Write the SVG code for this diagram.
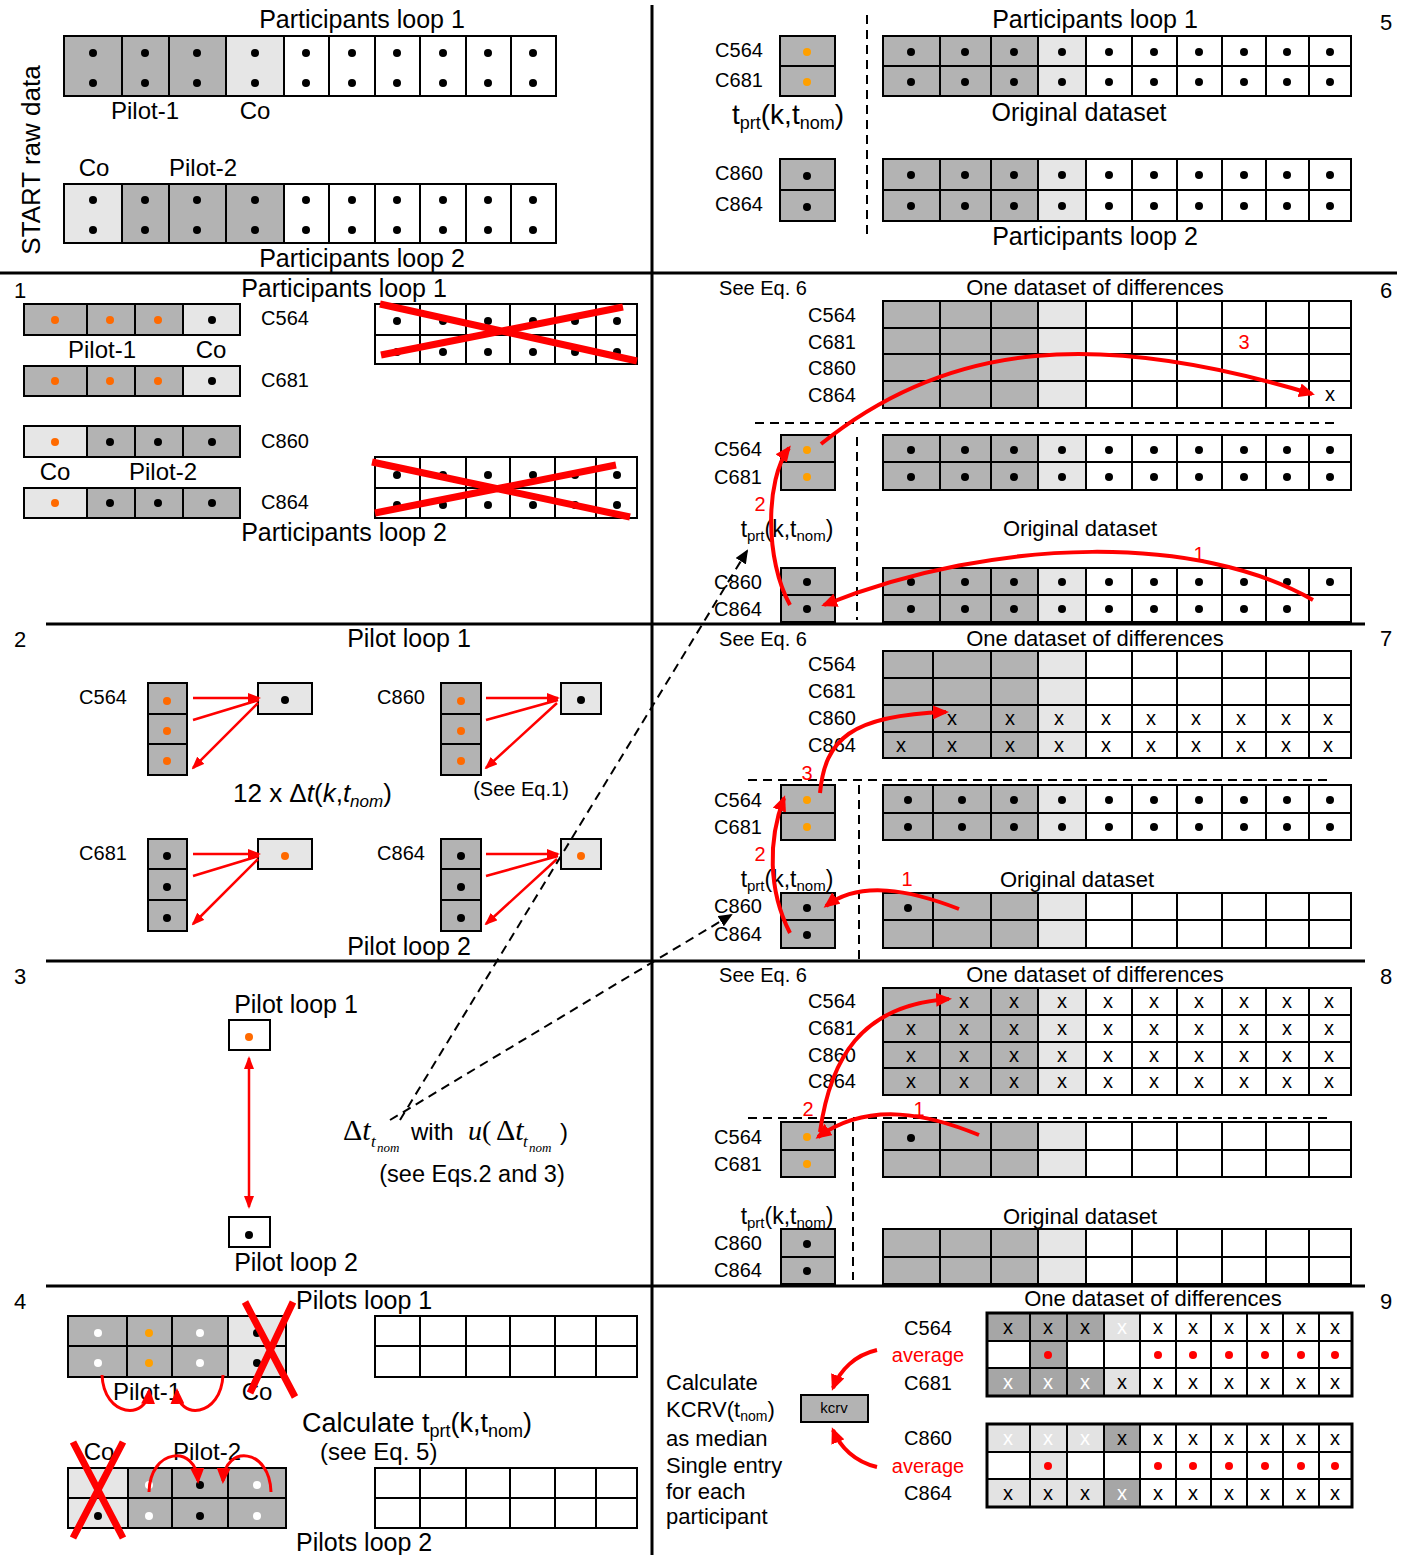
<svg xmlns="http://www.w3.org/2000/svg" width="1411" height="1555" viewBox="0 0 1411 1555">
<style>
text{font-family:"Liberation Sans",Arial,sans-serif;fill:#000}
.s18{font-size:18px}.s20{font-size:20px}.s22{font-size:22px}.s24{font-size:24px}.s25{font-size:25px}.s26{font-size:26px}
.m{text-anchor:middle}
.it{font-style:italic}
.serif{font-family:"Liberation Serif","Times New Roman",serif}
.G{fill:#b3b3b3}.L{fill:#e6e6e6}.D{fill:#a6a6a6}.L9{fill:#e3e3e3}
.grid{fill:none;stroke:#000;stroke-width:2}
.grid3{fill:none;stroke:#000;stroke-width:3}
.k{fill:#000}.o{fill:#ff6a00}.a{fill:#ffa000}.wd{fill:#fff}.rd{fill:#f00}
text.red{fill:#f00}
text.wx{fill:#fff}
.cross{stroke:#f00;stroke-width:7;fill:none}
.rc{stroke:#f00;stroke-width:4;fill:none}
.rc3{stroke:#f00;stroke-width:3;fill:none}
.rs{stroke:#f00;stroke-width:2.5;fill:none}
.dash{stroke:#000;stroke-width:2;stroke-dasharray:9 6;fill:none}
.frame{stroke:#000;stroke-width:3;fill:none}
.kbox{fill:#b3b3b3;stroke:#000;stroke-width:2}
</style>
<defs>
<marker id="ra" viewBox="0 0 16 14" refX="13" refY="7" markerWidth="16" markerHeight="14" markerUnits="userSpaceOnUse" orient="auto-start-reverse"><path d="M0,0L16,7L0,14Z" fill="#f00"/></marker>
<marker id="rs" viewBox="0 0 13 10" refX="11" refY="5" markerWidth="13" markerHeight="10" markerUnits="userSpaceOnUse" orient="auto-start-reverse"><path d="M0,0L13,5L0,10Z" fill="#f00"/></marker>
<marker id="ba" viewBox="0 0 14 12" refX="12" refY="6" markerWidth="14" markerHeight="12" markerUnits="userSpaceOnUse" orient="auto"><path d="M0,0L14,6L0,12Z" fill="#000"/></marker>
</defs>
<rect width="1411" height="1555" fill="#fff"/>

<g id="frame">
<path class="frame" d="M652,5V1555 M0,273H1397 M46,624H1365 M46,961H1365 M46,1286H1365"/>
</g>

<!-- START raw data panel -->
<g id="panel-start">
<text class="s26 m" transform="translate(40,160) rotate(-90)">START raw data</text>
<text class="s25 m" x="362" y="28">Participants loop 1</text>
<rect class="G" x="64" y="36" width="162" height="60"/><rect class="L" x="226" y="36" width="58" height="60"/>
<path class="grid" d="M64,36H556V96H64Z M122,36V96M169,36V96M226,36V96M284,36V96M329,36V96M375,36V96M420,36V96M466,36V96M511,36V96"/>
<g class="k">
<circle cx="93" cy="53" r="4"/><circle cx="145" cy="53" r="4"/><circle cx="197" cy="53" r="4"/><circle cx="255" cy="53" r="4"/><circle cx="306" cy="53" r="4"/><circle cx="352" cy="53" r="4"/><circle cx="397" cy="53" r="4"/><circle cx="443" cy="53" r="4"/><circle cx="488" cy="53" r="4"/><circle cx="533" cy="53" r="4"/>
<circle cx="93" cy="83" r="4"/><circle cx="145" cy="83" r="4"/><circle cx="197" cy="83" r="4"/><circle cx="255" cy="83" r="4"/><circle cx="306" cy="83" r="4"/><circle cx="352" cy="83" r="4"/><circle cx="397" cy="83" r="4"/><circle cx="443" cy="83" r="4"/><circle cx="488" cy="83" r="4"/><circle cx="533" cy="83" r="4"/>
</g>
<text class="s24 m" x="145" y="119">Pilot-1</text>
<text class="s24 m" x="255" y="119">Co</text>
<text class="s24 m" x="94" y="176">Co</text>
<text class="s24 m" x="203" y="176">Pilot-2</text>
<rect class="L" x="64" y="184" width="58" height="59"/><rect class="G" x="122" y="184" width="162" height="59"/>
<path class="grid" d="M64,184H556V243H64Z M122,184V243M169,184V243M226,184V243M284,184V243M329,184V243M375,184V243M420,184V243M466,184V243M511,184V243"/>
<g class="k">
<circle cx="93" cy="200" r="4"/><circle cx="145" cy="200" r="4"/><circle cx="197" cy="200" r="4"/><circle cx="255" cy="200" r="4"/><circle cx="306" cy="200" r="4"/><circle cx="352" cy="200" r="4"/><circle cx="397" cy="200" r="4"/><circle cx="443" cy="200" r="4"/><circle cx="488" cy="200" r="4"/><circle cx="533" cy="200" r="4"/>
<circle cx="93" cy="230" r="4"/><circle cx="145" cy="230" r="4"/><circle cx="197" cy="230" r="4"/><circle cx="255" cy="230" r="4"/><circle cx="306" cy="230" r="4"/><circle cx="352" cy="230" r="4"/><circle cx="397" cy="230" r="4"/><circle cx="443" cy="230" r="4"/><circle cx="488" cy="230" r="4"/><circle cx="533" cy="230" r="4"/>
</g>
<text class="s25 m" x="362" y="267">Participants loop 2</text>
</g>

<!-- Panel 5 -->
<g id="panel-5">
<text class="s22 m" x="1386" y="30">5</text>
<text class="s25 m" x="1095" y="28">Participants loop 1</text>
<path class="dash" d="M867,15V238"/>
<text class="s20 m" x="739" y="57">C564</text>
<text class="s20 m" x="739" y="87">C681</text>
<rect class="G" x="780" y="36" width="55" height="60"/><path class="grid" d="M780,36H835V96H780Z M780,66H835"/>
<circle class="a" cx="807" cy="52" r="4"/><circle class="a" cx="807" cy="82" r="4"/>
<text class="m" font-size="28" x="788" y="124">t<tspan font-size="18" dy="5">prt</tspan><tspan dy="-5">(k,t</tspan><tspan font-size="18" dy="5">nom</tspan><tspan dy="-5">)</tspan></text>
<rect class="G" x="883" y="36" width="155" height="60"/><rect class="L" x="1038" y="36" width="48" height="60"/>
<path class="grid" d="M883,36H1351V96H883Z M940,36V96M991,36V96M1038,36V96M1086,36V96M1132,36V96M1177,36V96M1222,36V96M1266,36V96M1309,36V96M883,66H1351"/>
<g class="k">
<circle cx="911" cy="52" r="4"/><circle cx="965" cy="52" r="4"/><circle cx="1014" cy="52" r="4"/><circle cx="1062" cy="52" r="4"/><circle cx="1109" cy="52" r="4"/><circle cx="1154" cy="52" r="4"/><circle cx="1199" cy="52" r="4"/><circle cx="1244" cy="52" r="4"/><circle cx="1287" cy="52" r="4"/><circle cx="1330" cy="52" r="4"/>
<circle cx="911" cy="82" r="4"/><circle cx="965" cy="82" r="4"/><circle cx="1014" cy="82" r="4"/><circle cx="1062" cy="82" r="4"/><circle cx="1109" cy="82" r="4"/><circle cx="1154" cy="82" r="4"/><circle cx="1199" cy="82" r="4"/><circle cx="1244" cy="82" r="4"/><circle cx="1287" cy="82" r="4"/><circle cx="1330" cy="82" r="4"/>
</g>
<text class="s25 m" x="1079" y="121">Original dataset</text>
<text class="s20 m" x="739" y="180">C860</text>
<text class="s20 m" x="739" y="211">C864</text>
<rect class="G" x="780" y="159" width="55" height="62"/><path class="grid" d="M780,159H835V221H780Z M780,190H835"/>
<circle class="k" cx="807" cy="176" r="4"/><circle class="k" cx="807" cy="207" r="4"/>
<rect class="G" x="883" y="159" width="155" height="62"/><rect class="L" x="1038" y="159" width="48" height="62"/>
<path class="grid" d="M883,159H1351V221H883Z M940,159V221M991,159V221M1038,159V221M1086,159V221M1132,159V221M1177,159V221M1222,159V221M1266,159V221M1309,159V221M883,190H1351"/>
<g class="k">
<circle cx="911" cy="175" r="4"/><circle cx="965" cy="175" r="4"/><circle cx="1014" cy="175" r="4"/><circle cx="1062" cy="175" r="4"/><circle cx="1109" cy="175" r="4"/><circle cx="1154" cy="175" r="4"/><circle cx="1199" cy="175" r="4"/><circle cx="1244" cy="175" r="4"/><circle cx="1287" cy="175" r="4"/><circle cx="1330" cy="175" r="4"/>
<circle cx="911" cy="206" r="4"/><circle cx="965" cy="206" r="4"/><circle cx="1014" cy="206" r="4"/><circle cx="1062" cy="206" r="4"/><circle cx="1109" cy="206" r="4"/><circle cx="1154" cy="206" r="4"/><circle cx="1199" cy="206" r="4"/><circle cx="1244" cy="206" r="4"/><circle cx="1287" cy="206" r="4"/><circle cx="1330" cy="206" r="4"/>
</g>
<text class="s25 m" x="1095" y="245">Participants loop 2</text>
</g>

<!-- Panel 1 -->
<g id="panel-1">
<text class="s22 m" x="20" y="298">1</text>
<text class="s25 m" x="344" y="297">Participants loop 1</text>
<rect class="G" x="24" y="304" width="159" height="31"/><rect class="L" x="183" y="304" width="57" height="31"/>
<path class="grid" d="M24,304H240V335H24Z M87,304V335M135,304V335M183,304V335"/>
<circle class="o" cx="55" cy="320" r="4"/><circle class="o" cx="110" cy="320" r="4"/><circle class="o" cx="158" cy="320" r="4"/><circle class="k" cx="212" cy="320" r="4"/>
<text class="s24 m" x="102" y="358">Pilot-1</text>
<text class="s24 m" x="211" y="358">Co</text>
<rect class="G" x="24" y="366" width="159" height="30"/><rect class="L" x="183" y="366" width="57" height="30"/>
<path class="grid" d="M24,366H240V396H24Z M87,366V396M135,366V396M183,366V396"/>
<circle class="o" cx="55" cy="381" r="4"/><circle class="o" cx="110" cy="381" r="4"/><circle class="o" cx="158" cy="381" r="4"/><circle class="k" cx="212" cy="381" r="4"/>
<rect class="L" x="24" y="426" width="63" height="31"/><rect class="G" x="87" y="426" width="153" height="31"/>
<path class="grid" d="M24,426H240V457H24Z M87,426V457M135,426V457M183,426V457"/>
<circle class="o" cx="55" cy="442" r="4"/><circle class="k" cx="110" cy="442" r="4"/><circle class="k" cx="158" cy="442" r="4"/><circle class="k" cx="212" cy="442" r="4"/>
<text class="s24 m" x="55" y="480">Co</text>
<text class="s24 m" x="163" y="480">Pilot-2</text>
<rect class="L" x="24" y="488" width="63" height="30"/><rect class="G" x="87" y="488" width="153" height="30"/>
<path class="grid" d="M24,488H240V518H24Z M87,488V518M135,488V518M183,488V518"/>
<circle class="o" cx="55" cy="503" r="4"/><circle class="k" cx="110" cy="503" r="4"/><circle class="k" cx="158" cy="503" r="4"/><circle class="k" cx="212" cy="503" r="4"/>
<text class="s20 m" x="285" y="325">C564</text>
<text class="s20 m" x="285" y="387">C681</text>
<text class="s20 m" x="285" y="448">C860</text>
<text class="s20 m" x="285" y="509">C864</text>
<path class="grid" d="M375,304H637V364H375Z M420,304V364M466,304V364M510,304V364M555,304V364M596,304V364M375,335H637"/>
<g class="k">
<circle cx="397" cy="321" r="4"/><circle cx="443" cy="321" r="4"/><circle cx="488" cy="321" r="4"/><circle cx="533" cy="321" r="4"/><circle cx="575" cy="321" r="4"/><circle cx="617" cy="321" r="4"/>
<circle cx="397" cy="352" r="4"/><circle cx="443" cy="352" r="4"/><circle cx="488" cy="352" r="4"/><circle cx="533" cy="352" r="4"/><circle cx="575" cy="352" r="4"/><circle cx="617" cy="352" r="4"/>
</g>
<path class="cross" d="M380,304L637,361 M381,355L623,307"/>
<path class="grid" d="M375,457H637V518H375Z M420,457V518M466,457V518M510,457V518M555,457V518M596,457V518M375,488H637"/>
<g class="k">
<circle cx="397" cy="475" r="4"/><circle cx="443" cy="475" r="4"/><circle cx="488" cy="475" r="4"/><circle cx="533" cy="475" r="4"/><circle cx="575" cy="475" r="4"/><circle cx="617" cy="475" r="4"/>
<circle cx="397" cy="505" r="4"/><circle cx="443" cy="505" r="4"/><circle cx="488" cy="505" r="4"/><circle cx="533" cy="505" r="4"/><circle cx="575" cy="505" r="4"/><circle cx="617" cy="505" r="4"/>
</g>
<path class="cross" d="M372,462L630,517 M375,513L616,465"/>
<text class="s25 m" x="344" y="541">Participants loop 2</text>
</g>

<!-- Panel 6 -->
<g id="panel-6">
<text class="s22 m" x="1386" y="298">6</text>
<text class="s20 m" x="763" y="295">See Eq. 6</text>
<text class="s22 m" x="1095" y="295">One dataset of differences</text>
<text class="s20 m" x="832" y="322">C564</text>
<text class="s20 m" x="832" y="349">C681</text>
<text class="s20 m" x="832" y="375">C860</text>
<text class="s20 m" x="832" y="402">C864</text>
<rect class="G" x="883" y="301" width="155" height="107"/><rect class="L" x="1038" y="301" width="48" height="107"/>
<path class="grid" d="M883,301H1351V408H883Z M940,301V408M991,301V408M1038,301V408M1086,301V408M1132,301V408M1177,301V408M1222,301V408M1266,301V408M1309,301V408M883,328H1351M883,354H1351M883,381H1351"/>
<text class="s20 m" x="1330" y="401">x</text>
<text class="s20 m red" x="1244" y="349">3</text>
<path class="dash" d="M755,423H1338"/>
<text class="s20 m" x="738" y="456">C564</text>
<text class="s20 m" x="738" y="484">C681</text>
<rect class="G" x="781" y="435" width="54" height="55"/><path class="grid" d="M781,435H835V490H781Z M781,462H835"/>
<circle class="a" cx="807" cy="450" r="4"/><circle class="a" cx="807" cy="477" r="4"/>
<rect class="G" x="883" y="435" width="155" height="55"/><rect class="L" x="1038" y="435" width="48" height="55"/>
<path class="grid" d="M883,435H1351V490H883Z M940,435V490M991,435V490M1038,435V490M1086,435V490M1132,435V490M1177,435V490M1222,435V490M1266,435V490M1309,435V490M883,462H1351"/>
<g class="k">
<circle cx="911" cy="450" r="4"/><circle cx="965" cy="450" r="4"/><circle cx="1014" cy="450" r="4"/><circle cx="1062" cy="450" r="4"/><circle cx="1109" cy="450" r="4"/><circle cx="1154" cy="450" r="4"/><circle cx="1199" cy="450" r="4"/><circle cx="1244" cy="450" r="4"/><circle cx="1287" cy="450" r="4"/><circle cx="1330" cy="450" r="4"/>
<circle cx="911" cy="477" r="4"/><circle cx="965" cy="477" r="4"/><circle cx="1014" cy="477" r="4"/><circle cx="1062" cy="477" r="4"/><circle cx="1109" cy="477" r="4"/><circle cx="1154" cy="477" r="4"/><circle cx="1199" cy="477" r="4"/><circle cx="1244" cy="477" r="4"/><circle cx="1287" cy="477" r="4"/><circle cx="1330" cy="477" r="4"/>
</g>
<path class="dash" d="M857,437V620"/>
<text class="s20 m red" x="760" y="511">2</text>
<text class="m" font-size="23" x="787" y="537">t<tspan font-size="15" dy="4">prt</tspan><tspan dy="-4">(k,t</tspan><tspan font-size="15" dy="4">nom</tspan><tspan dy="-4">)</tspan></text>
<text class="s22 m" x="1080" y="536">Original dataset</text>
<text class="s20 m red" x="1199" y="561">1</text>
<text class="s20 m" x="738" y="589">C860</text>
<text class="s20 m" x="738" y="616">C864</text>
<rect class="G" x="781" y="568" width="54" height="54"/><path class="grid" d="M781,568H835V622H781Z M781,595H835"/>
<circle class="k" cx="807" cy="582" r="4"/><circle class="k" cx="807" cy="609" r="4"/>
<rect class="G" x="883" y="568" width="155" height="54"/><rect class="L" x="1038" y="568" width="48" height="54"/>
<path class="grid" d="M883,568H1351V622H883Z M940,568V622M991,568V622M1038,568V622M1086,568V622M1132,568V622M1177,568V622M1222,568V622M1266,568V622M1309,568V622M883,595H1351"/>
<g class="k">
<circle cx="911" cy="582" r="4"/><circle cx="965" cy="582" r="4"/><circle cx="1014" cy="582" r="4"/><circle cx="1062" cy="582" r="4"/><circle cx="1109" cy="582" r="4"/><circle cx="1154" cy="582" r="4"/><circle cx="1199" cy="582" r="4"/><circle cx="1244" cy="582" r="4"/><circle cx="1287" cy="582" r="4"/><circle cx="1330" cy="582" r="4"/>
<circle cx="911" cy="609" r="4"/><circle cx="965" cy="609" r="4"/><circle cx="1014" cy="609" r="4"/><circle cx="1062" cy="609" r="4"/><circle cx="1109" cy="609" r="4"/><circle cx="1154" cy="609" r="4"/><circle cx="1199" cy="609" r="4"/><circle cx="1244" cy="609" r="4"/><circle cx="1287" cy="609" r="4"/>
</g>
</g>

<!-- Panel 2 -->
<g id="panel-2">
<text class="s22 m" x="20" y="647">2</text>
<text class="s25 m" x="409" y="647">Pilot loop 1</text>
<text class="s20 m" x="103" y="704">C564</text>
<text class="s20 m" x="401" y="704">C860</text>
<text class="s20 m" x="103" y="860">C681</text>
<text class="s20 m" x="401" y="860">C864</text>
<rect class="G" x="148" y="683" width="39" height="92"/><path class="grid" d="M148,683H187V775H148Z M148,714H187M148,744H187"/>
<circle class="o" cx="167" cy="701" r="4"/><circle class="o" cx="167" cy="731" r="4"/><circle class="o" cx="167" cy="761" r="4"/>
<rect class="L" x="258" y="683" width="54" height="31"/><path class="grid" d="M258,683H312V714H258Z"/>
<circle class="k" cx="285" cy="700" r="4"/>
<rect class="G" x="441" y="683" width="40" height="92"/><path class="grid" d="M441,683H481V775H441Z M441,714H481M441,744H481"/>
<circle class="o" cx="461" cy="701" r="4"/><circle class="o" cx="461" cy="731" r="4"/><circle class="o" cx="461" cy="761" r="4"/>
<rect class="L" x="561" y="683" width="40" height="31"/><path class="grid" d="M561,683H601V714H561Z"/>
<circle class="k" cx="581" cy="700" r="4"/>
<text font-size="26" x="233" y="802">12 x Δ<tspan class="it">t</tspan>(<tspan class="it">k</tspan>,<tspan class="it">t</tspan><tspan class="it" font-size="17" dy="5">nom</tspan><tspan dy="-5">)</tspan></text>
<text class="s20 m" x="521" y="796">(See Eq.1)</text>
<rect class="G" x="148" y="839" width="39" height="92"/><path class="grid" d="M148,839H187V931H148Z M148,869H187M148,900H187"/>
<circle class="k" cx="167" cy="856" r="4"/><circle class="k" cx="167" cy="887" r="4"/><circle class="k" cx="167" cy="918" r="4"/>
<rect class="L" x="258" y="839" width="54" height="30"/><path class="grid" d="M258,839H312V869H258Z"/>
<circle class="o" cx="285" cy="856" r="4"/>
<rect class="G" x="441" y="839" width="40" height="92"/><path class="grid" d="M441,839H481V931H441Z M441,869H481M441,900H481"/>
<circle class="k" cx="461" cy="856" r="4"/><circle class="k" cx="461" cy="887" r="4"/><circle class="k" cx="461" cy="918" r="4"/>
<rect class="L" x="561" y="839" width="40" height="30"/><path class="grid" d="M561,839H601V869H561Z"/>
<circle class="o" cx="581" cy="856" r="4"/>
<text class="s25 m" x="409" y="955">Pilot loop 2</text>
</g>

<!-- Panel 7 -->
<g id="panel-7">
<text class="s22 m" x="1386" y="646">7</text>
<text class="s20 m" x="763" y="646">See Eq. 6</text>
<text class="s22 m" x="1095" y="646">One dataset of differences</text>
<text class="s20 m" x="832" y="671">C564</text>
<text class="s20 m" x="832" y="698">C681</text>
<text class="s20 m" x="832" y="725">C860</text>
<text class="s20 m" x="832" y="752">C864</text>
<rect class="G" x="883" y="651" width="155" height="107"/><rect class="L" x="1038" y="651" width="48" height="107"/>
<path class="grid" d="M883,651H1351V758H883Z M933,651V758M991,651V758M1038,651V758M1086,651V758M1132,651V758M1177,651V758M1222,651V758M1266,651V758M1309,651V758M883,678H1351M883,705H1351M883,732H1351"/>
<text class="s20 m" x="952 1010 1059 1106 1151 1196 1241 1286 1328" y="725">xxxxxxxxx</text>
<text class="s20 m" x="901 952 1010 1059 1106 1151 1196 1241 1286 1328" y="752">xxxxxxxxxx</text>
<path class="dash" d="M748,780H1330"/>
<text class="s20 m red" x="807" y="780">3</text>
<text class="s20 m" x="738" y="807">C564</text>
<text class="s20 m" x="738" y="834">C681</text>
<rect class="G" x="781" y="785" width="54" height="55"/><path class="grid" d="M781,785H835V840H781Z M781,813H835"/>
<circle class="a" cx="807" cy="800" r="4"/><circle class="a" cx="807" cy="827" r="4"/>
<rect class="G" x="883" y="785" width="155" height="55"/><rect class="L" x="1038" y="785" width="48" height="55"/>
<path class="grid" d="M883,785H1351V840H883Z M933,785V840M991,785V840M1038,785V840M1086,785V840M1132,785V840M1177,785V840M1222,785V840M1266,785V840M1309,785V840M883,813H1351"/>
<g class="k">
<circle cx="908" cy="800" r="4"/><circle cx="962" cy="800" r="4"/><circle cx="1014" cy="800" r="4"/><circle cx="1062" cy="800" r="4"/><circle cx="1109" cy="800" r="4"/><circle cx="1154" cy="800" r="4"/><circle cx="1199" cy="800" r="4"/><circle cx="1244" cy="800" r="4"/><circle cx="1287" cy="800" r="4"/><circle cx="1330" cy="800" r="4"/>
<circle cx="908" cy="827" r="4"/><circle cx="962" cy="827" r="4"/><circle cx="1014" cy="827" r="4"/><circle cx="1062" cy="827" r="4"/><circle cx="1109" cy="827" r="4"/><circle cx="1154" cy="827" r="4"/><circle cx="1199" cy="827" r="4"/><circle cx="1244" cy="827" r="4"/><circle cx="1287" cy="827" r="4"/><circle cx="1330" cy="827" r="4"/>
</g>
<path class="dash" d="M859,785V960"/>
<text class="s20 m red" x="760" y="861">2</text>
<text class="s20 m red" x="907" y="886">1</text>
<text class="m" font-size="23" x="787" y="887">t<tspan font-size="15" dy="4">prt</tspan><tspan dy="-4">(k,t</tspan><tspan font-size="15" dy="4">nom</tspan><tspan dy="-4">)</tspan></text>
<text class="s22 m" x="1077" y="887">Original dataset</text>
<text class="s20 m" x="738" y="913">C860</text>
<text class="s20 m" x="738" y="941">C864</text>
<rect class="G" x="781" y="893" width="54" height="55"/><path class="grid" d="M781,893H835V948H781Z M781,920H835"/>
<circle class="k" cx="807" cy="908" r="4"/><circle class="k" cx="807" cy="935" r="4"/>
<rect class="G" x="883" y="893" width="155" height="55"/><rect class="L" x="1038" y="893" width="48" height="55"/>
<path class="grid" d="M883,893H1351V948H883Z M933,893V948M991,893V948M1038,893V948M1086,893V948M1132,893V948M1177,893V948M1222,893V948M1266,893V948M1309,893V948M883,920H1351"/>
<circle class="k" cx="908" cy="908" r="4"/>
</g>

<!-- Panel 3 -->
<g id="panel-3">
<text class="s22 m" x="20" y="984">3</text>
<text class="s25 m" x="296" y="1013">Pilot loop 1</text>
<rect x="229" y="1020" width="41" height="30" fill="#fff"/><path class="grid" d="M229,1020H270V1050H229Z"/>
<circle class="o" cx="249" cy="1037" r="4"/>
<rect x="229" y="1217" width="41" height="30" fill="#fff"/><path class="grid" d="M229,1217H270V1247H229Z"/>
<circle class="k" cx="249" cy="1235" r="4"/>
<text class="s25 m" x="296" y="1271">Pilot loop 2</text>
<text class="serif" font-size="30" x="343" y="1140">Δ<tspan class="it">t</tspan></text>
<text class="serif it" font-size="17" x="371" y="1147">t</text>
<text class="serif it" font-size="13" x="377" y="1152">nom</text>
<text class="s24" x="411" y="1140">with</text>
<text class="serif" font-size="28" x="468" y="1140"><tspan class="it">u</tspan>(</text>
<text class="serif" font-size="30" x="496" y="1140">Δ<tspan class="it">t</tspan></text>
<text class="serif it" font-size="17" x="523" y="1147">t</text>
<text class="serif it" font-size="13" x="529" y="1152">nom</text>
<text class="s24" x="560" y="1140">)</text>
<text class="m" font-size="23.5" x="472" y="1182">(see Eqs.2 and 3)</text>
</g>

<!-- Panel 8 -->
<g id="panel-8">
<text class="s22 m" x="1386" y="984">8</text>
<text class="s20 m" x="763" y="982">See Eq. 6</text>
<text class="s22 m" x="1095" y="982">One dataset of differences</text>
<text class="s20 m" x="832" y="1008">C564</text>
<text class="s20 m" x="832" y="1035">C681</text>
<text class="s20 m" x="832" y="1062">C860</text>
<text class="s20 m" x="832" y="1088">C864</text>
<rect class="G" x="883" y="988" width="155" height="107"/><rect class="L" x="1038" y="988" width="48" height="107"/>
<path class="grid" d="M883,988H1351V1095H883Z M940,988V1095M991,988V1095M1038,988V1095M1086,988V1095M1132,988V1095M1177,988V1095M1222,988V1095M1266,988V1095M1309,988V1095M883,1015H1351M883,1042H1351M883,1068H1351"/>
<text class="s20 m" x="964 1014 1062 1108 1154 1199 1244 1287 1329" y="1008">xxxxxxxxx</text>
<text class="s20 m" x="911 964 1014 1062 1108 1154 1199 1244 1287 1329" y="1035">xxxxxxxxxx</text>
<text class="s20 m" x="911 964 1014 1062 1108 1154 1199 1244 1287 1329" y="1062">xxxxxxxxxx</text>
<text class="s20 m" x="911 964 1014 1062 1108 1154 1199 1244 1287 1329" y="1088">xxxxxxxxxx</text>
<path class="dash" d="M748,1118H1330"/>
<text class="s20 m red" x="808" y="1116">2</text>
<text class="s20 m red" x="919" y="1116">1</text>
<text class="s20 m" x="738" y="1144">C564</text>
<text class="s20 m" x="738" y="1171">C681</text>
<rect class="G" x="781" y="1122" width="54" height="55"/><path class="grid" d="M781,1122H835V1177H781Z M781,1150H835"/>
<circle class="a" cx="807" cy="1137" r="4"/><circle class="a" cx="807" cy="1164" r="4"/>
<rect class="G" x="883" y="1122" width="155" height="55"/><rect class="L" x="1038" y="1122" width="48" height="55"/>
<path class="grid" d="M883,1122H1351V1177H883Z M940,1122V1177M991,1122V1177M1038,1122V1177M1086,1122V1177M1132,1122V1177M1177,1122V1177M1222,1122V1177M1266,1122V1177M1309,1122V1177M883,1150H1351"/>
<circle class="k" cx="911" cy="1138" r="4"/>
<path class="dash" d="M853,1122V1280"/>
<text class="m" font-size="23" x="787" y="1224">t<tspan font-size="15" dy="4">prt</tspan><tspan dy="-4">(k,t</tspan><tspan font-size="15" dy="4">nom</tspan><tspan dy="-4">)</tspan></text>
<text class="s22 m" x="1080" y="1224">Original dataset</text>
<text class="s20 m" x="738" y="1250">C860</text>
<text class="s20 m" x="738" y="1277">C864</text>
<rect class="G" x="781" y="1229" width="54" height="55"/><path class="grid" d="M781,1229H835V1284H781Z M781,1257H835"/>
<circle class="k" cx="807" cy="1244" r="4"/><circle class="k" cx="807" cy="1271" r="4"/>
<rect class="G" x="883" y="1229" width="155" height="55"/><rect class="L" x="1038" y="1229" width="48" height="55"/>
<path class="grid" d="M883,1229H1351V1284H883Z M940,1229V1284M991,1229V1284M1038,1229V1284M1086,1229V1284M1132,1229V1284M1177,1229V1284M1222,1229V1284M1266,1229V1284M1309,1229V1284M883,1257H1351"/>
</g>

<!-- Panel 4 -->
<g id="panel-4">
<text class="s22 m" x="20" y="1309">4</text>
<text class="s25" x="296" y="1309">Pilots loop 1</text>
<rect class="G" x="68" y="1316" width="160" height="61"/><rect class="L" x="228" y="1316" width="58" height="61"/>
<path class="grid" d="M68,1316H286V1377H68Z M127,1316V1377M172,1316V1377M228,1316V1377M68,1346H286"/>
<circle class="wd" cx="98" cy="1333" r="4"/><circle class="a" cx="149" cy="1333" r="4"/><circle class="wd" cx="200" cy="1333" r="4"/><circle class="k" cx="257" cy="1333" r="4"/>
<circle class="wd" cx="98" cy="1363" r="4"/><circle class="a" cx="149" cy="1363" r="4"/><circle class="wd" cx="200" cy="1363" r="4"/><circle class="k" cx="257" cy="1363" r="4"/>
<text class="s24 m" x="147" y="1400">Pilot-1</text>
<text class="s24 m" x="257" y="1400">Co</text>
<path class="cross" d="M245,1302L295,1397 M293,1302L250,1393"/>
<path class="grid" d="M375,1316H637V1377H375Z M420,1316V1377M466,1316V1377M510,1316V1377M555,1316V1377M596,1316V1377M375,1346H637"/>
<text font-size="27" x="302" y="1432">Calculate t<tspan font-size="18" dy="5">prt</tspan><tspan dy="-5">(k,t</tspan><tspan font-size="18" dy="5">nom</tspan><tspan dy="-5">)</tspan></text>
<text class="s24" x="320" y="1460">(see Eq. 5)</text>
<text class="s24 m" x="99" y="1460">Co</text>
<text class="s24 m" x="207" y="1460">Pilot-2</text>
<rect class="L" x="68" y="1468" width="60" height="60"/><rect class="G" x="128" y="1468" width="158" height="60"/>
<path class="grid" d="M68,1468H286V1528H68Z M128,1468V1528M172,1468V1528M228,1468V1528M68,1498H286"/>
<circle class="wd" cx="149" cy="1485" r="4"/><circle class="k" cx="200" cy="1485" r="4"/><circle class="wd" cx="257" cy="1485" r="4"/>
<circle class="k" cx="98" cy="1516" r="4"/><circle class="wd" cx="149" cy="1516" r="4"/><circle class="k" cx="200" cy="1516" r="4"/><circle class="wd" cx="257" cy="1516" r="4"/>
<path class="cross" d="M73,1442L123,1538 M123,1442L73,1538"/>
<path class="grid" d="M375,1468H637V1528H375Z M420,1468V1528M466,1468V1528M510,1468V1528M555,1468V1528M596,1468V1528M375,1498H637"/>
<text class="s25" x="296" y="1551">Pilots loop 2</text>
</g>

<!-- Panel 9 -->
<g id="panel-9">
<text class="s22 m" x="1386" y="1309">9</text>
<text class="s22 m" x="1153" y="1306">One dataset of differences</text>
<text class="s20 m" x="928" y="1335">C564</text>
<text class="s20 m red" x="928" y="1362">average</text>
<text class="s20 m" x="928" y="1390">C681</text>
<text class="s20 m" x="928" y="1445">C860</text>
<text class="s20 m red" x="928" y="1473">average</text>
<text class="s20 m" x="928" y="1500">C864</text>
<rect class="D" x="987" y="1313" width="117" height="28"/><rect class="L9" x="1104" y="1313" width="36" height="28"/>
<rect class="D" x="1030" y="1341" width="37" height="27"/>
<rect class="D" x="987" y="1368" width="117" height="28"/><rect class="L9" x="1104" y="1368" width="36" height="28"/>
<path class="grid" d="M1030,1313V1396M1067,1313V1396M1104,1313V1396M1140,1313V1396M1176,1313V1396M1211,1313V1396M1247,1313V1396M1283,1313V1396M1319,1313V1396M987,1341H1352M987,1368H1352"/>
<path class="grid3" d="M987,1313H1352V1396H987Z"/>
<text class="s20 m" x="1008 1048 1085" y="1334">xxx</text>
<text class="s20 m wx" x="1122" y="1334">x</text>
<text class="s20 m" x="1158 1193 1229 1265 1301 1335" y="1334">xxxxxx</text>
<g class="rd"><circle cx="1048" cy="1355" r="4"/><circle cx="1158" cy="1355" r="4"/><circle cx="1193" cy="1355" r="4"/><circle cx="1229" cy="1355" r="4"/><circle cx="1265" cy="1355" r="4"/><circle cx="1301" cy="1355" r="4"/><circle cx="1335" cy="1355" r="4"/></g>
<text class="s20 m wx" x="1008 1048 1085" y="1389">xxx</text>
<text class="s20 m" x="1122 1158 1193 1229 1265 1301 1335" y="1389">xxxxxxx</text>
<rect class="L9" x="987" y="1424" width="117" height="28"/><rect class="D" x="1104" y="1424" width="36" height="28"/>
<rect class="L9" x="1030" y="1452" width="37" height="27"/>
<rect class="L9" x="987" y="1479" width="117" height="28"/><rect class="D" x="1104" y="1479" width="36" height="28"/>
<path class="grid" d="M1030,1424V1507M1067,1424V1507M1104,1424V1507M1140,1424V1507M1176,1424V1507M1211,1424V1507M1247,1424V1507M1283,1424V1507M1319,1424V1507M987,1452H1352M987,1479H1352"/>
<path class="grid3" d="M987,1424H1352V1507H987Z"/>
<text class="s20 m wx" x="1008 1048 1085" y="1445">xxx</text>
<text class="s20 m" x="1122 1158 1193 1229 1265 1301 1335" y="1445">xxxxxxx</text>
<g class="rd"><circle cx="1048" cy="1466" r="4"/><circle cx="1158" cy="1466" r="4"/><circle cx="1193" cy="1466" r="4"/><circle cx="1229" cy="1466" r="4"/><circle cx="1265" cy="1466" r="4"/><circle cx="1301" cy="1466" r="4"/><circle cx="1335" cy="1466" r="4"/></g>
<text class="s20 m" x="1008 1048 1085" y="1500">xxx</text>
<text class="s20 m wx" x="1122" y="1500">x</text>
<text class="s20 m" x="1158 1193 1229 1265 1301 1335" y="1500">xxxxxx</text>
<rect class="kbox" x="801" y="1395" width="67" height="27"/>
<text class="m" font-size="15" x="834" y="1413">kcrv</text>
<text class="s22" x="666" y="1390">Calculate</text>
<text class="s22" x="666" y="1417">KCRV(t<tspan font-size="14" dy="4">nom</tspan><tspan dy="-4">)</tspan></text>
<text class="s22" x="666" y="1446">as median</text>
<text class="s22" x="666" y="1473">Single entry</text>
<text class="s22" x="666" y="1499">for each</text>
<text class="s22" x="666" y="1524">participant</text>
</g>

<!-- Connectors -->
<g id="connectors">
<path class="rc" marker-end="url(#ra)" d="M1313,600 C1200,535 1000,535 824,605"/>
<path class="rc" marker-end="url(#ra)" d="M790,605 C765,560 765,480 789,448"/>
<path class="rc" marker-end="url(#ra)" d="M821,444 C950,340 1100,330 1312,394"/>
<path class="rs" marker-start="url(#rs)" marker-end="url(#rs)" d="M259,698L193,698 M259,700L193,720 M258,703L193,768"/>
<path class="rs" marker-start="url(#rs)" marker-end="url(#rs)" d="M558,698L486,698 M558,700L486,720 M557,703L486,768"/>
<path class="rs" marker-start="url(#rs)" marker-end="url(#rs)" d="M259,854L193,854 M259,856L193,876 M258,859L193,924"/>
<path class="rs" marker-start="url(#rs)" marker-end="url(#rs)" d="M558,854L486,854 M558,856L486,876 M557,859L486,924"/>
<path class="rc" marker-end="url(#ra)" d="M959,909 C910,890 860,880 826,906"/>
<path class="rc" marker-end="url(#ra)" d="M790,933 C768,890 768,840 784,798"/>
<path class="rc" marker-end="url(#ra)" d="M820,793 C825,740 850,715 946,712"/>
<path class="rs" marker-start="url(#rs)" marker-end="url(#rs)" d="M249,1058V1207"/>
<path class="dash" marker-end="url(#ba)" d="M400,1120L747,551"/>
<path class="dash" marker-end="url(#ba)" d="M390,1120L731,915"/>
<path class="rc" marker-end="url(#ra)" d="M979,1135 C930,1115 870,1100 818,1137"/>
<path class="rc" marker-end="url(#ra)" d="M820,1132 C830,1060 860,1005 949,999"/>
<path class="rc3" marker-end="url(#ra)" d="M102,1375 C104,1418 147,1420 149,1391"/>
<path class="rc3" marker-end="url(#ra)" d="M223,1375 C221,1418 178,1420 177,1391"/>
<path class="rc3" marker-end="url(#ra)" d="M149,1492 C150,1448 196,1444 198,1481"/>
<path class="rc3" marker-end="url(#ra)" d="M271,1492 C270,1448 225,1444 223,1481"/>
<path class="rc" marker-end="url(#ra)" d="M877,1350 C855,1355 840,1370 833,1388"/>
<path class="rc" marker-end="url(#ra)" d="M877,1467 C855,1462 840,1447 833,1430"/>
</g>
</svg>
